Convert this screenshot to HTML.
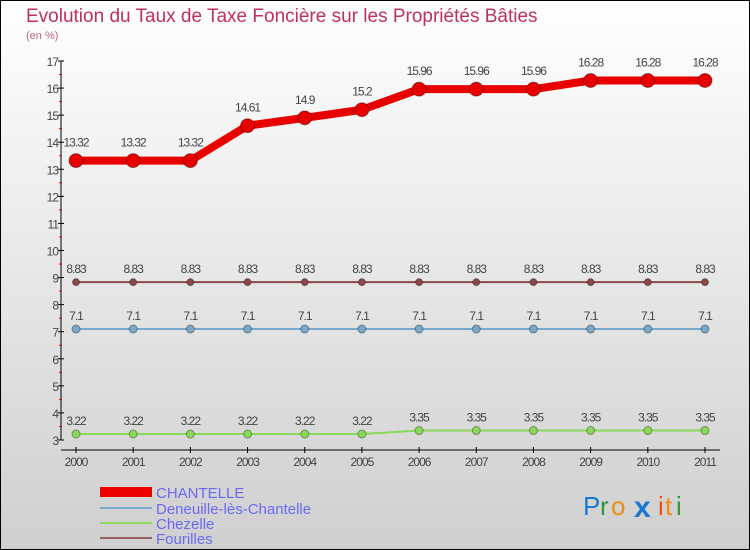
<!DOCTYPE html>
<html><head><meta charset="utf-8"><style>
body{margin:0}
#c{width:750px;height:550px;position:relative;overflow:hidden}
svg text{font-family:"Liberation Sans",sans-serif}
</style></head><body>
<div id="c">
<svg id="s" width="750" height="550" xmlns="http://www.w3.org/2000/svg">
<defs><linearGradient id="bg" x1="0" y1="0" x2="0" y2="1"><stop offset="0" stop-color="#ffffff"/><stop offset="1" stop-color="#cfcfcf"/></linearGradient></defs>
<rect x="0.5" y="0.5" width="749" height="549" fill="url(#bg)" stroke="#000"/>
<text x="26" y="22" font-size="19" fill="#c0305a">Evolution du Taux de Taxe Foncière sur les Propriétés Bâties</text>
<text x="26" y="39" font-size="11" fill="#c0608a">(en %)</text>
<g id="axes"></g><g id="series"></g>
<g>
<rect x="100" y="487" width="52" height="10" fill="#e00"/>
<text x="156" y="498" font-size="15" fill="#6a6af0">CHANTELLE</text>
<line x1="100" y1="508" x2="152" y2="508" stroke="#7aaccc" stroke-width="2"/>
<text x="156" y="514" font-size="15" fill="#6a6af0">Deneuille-lès-Chantelle</text>
<line x1="100" y1="523" x2="152" y2="523" stroke="#90d860" stroke-width="2"/>
<text x="156" y="529" font-size="15" fill="#6a6af0">Chezelle</text>
<line x1="100" y1="538" x2="152" y2="538" stroke="#946060" stroke-width="2"/>
<text x="156" y="544" font-size="15" fill="#6a6af0">Fourilles</text>
</g>
<g font-size="26">
<text x="583" y="515" fill="#1a78d0">P</text><text x="600" y="515" fill="#2a9a40">r</text><text x="611" y="515" fill="#f08a10">o</text><text x="634" y="517" fill="#1a78d0" font-weight="bold" font-size="30">x</text><text x="658" y="515" fill="#f05010">i</text><text x="665" y="515" fill="#f08a10">t</text><text x="676" y="515" fill="#2a9a40">i</text>
</g>
</svg></div>
<script>
const years=[2000,2001,2002,2003,2004,2005,2006,2007,2008,2009,2010,2011];
const chantelle=[13.32,13.32,13.32,14.61,14.9,15.2,15.96,15.96,15.96,16.28,16.28,16.28];
const deneuille=[7.1,7.1,7.1,7.1,7.1,7.1,7.1,7.1,7.1,7.1,7.1,7.1];
const chezelle=[3.22,3.22,3.22,3.22,3.22,3.22,3.35,3.35,3.35,3.35,3.35,3.35];
const fourilles=[8.83,8.83,8.83,8.83,8.83,8.83,8.83,8.83,8.83,8.83,8.83,8.83];
const yTicks=[3,4,5,6,7,8,9,10,11,12,13,14,15,16,17];
const NS="http://www.w3.org/2000/svg";
const X=i=>76+i*(705-76)/(years.length-1);
const Y=v=>440-(v-3)*(440-61)/14;
function mk(t,a,p){const e=document.createElementNS(NS,t);for(const k in a)e.setAttribute(k,a[k]);p.appendChild(e);return e;}
const ax=document.getElementById('axes'),sg=document.getElementById('series');
const yl=mk('line',{x1:61,y1:Y(17),x2:61,y2:Y(3),stroke:'#000'},ax);


const xl=mk('line',{x1:61,y1:450,x2:720,y2:450,stroke:'#000'},ax);


yTicks.forEach(v=>{
 mk('line',{x1:58,y1:Y(v),x2:64,y2:Y(v),stroke:'#000'},ax);
 if(v<17)mk('line',{x1:59,y1:Y(v+0.5),x2:62,y2:Y(v+0.5),stroke:'#e00'},ax);
 const t=mk('text',{x:58,y:Y(v)+5,'font-size':12,'text-anchor':'end',fill:'#444','letter-spacing':'-1'},ax);t.textContent=v;
 
 
});
years.forEach((y,i)=>{
 mk('line',{x1:X(i),y1:447,x2:X(i),y2:453,stroke:'#000'},ax);
 const t=mk('text',{x:X(i),y:466,'font-size':12,'text-anchor':'middle',fill:'#444','letter-spacing':'-1'},ax);t.textContent=y;
 
 
});
function series(name,data,color,w,r,off){
 const g=mk('g',{},sg);
 
 
 mk('polyline',{points:data.map((v,i)=>X(i)+','+Y(v)).join(' '),fill:'none',stroke:color,'stroke-width':w,'stroke-linejoin':'round'},g);
 data.forEach((v,i)=>{
  const c=mk('circle',{cx:X(i),cy:Y(v),r:r,fill:color,stroke:'rgba(0,0,0,0.35)','stroke-width':1},g);
  
  
  const t=mk('text',{x:X(i),y:Y(v)-off,'font-size':12,'text-anchor':'middle',fill:'#444','letter-spacing':'-1'},g);
  t.textContent=v;
  
  
 });
}
series('chezelle',chezelle,'#8ad858',2,4,9);
series('deneuille',deneuille,'#78a8cc',2,4,9);
series('fourilles',fourilles,'#8a4848',2,3.5,9);
series('chantelle',chantelle,'#e80000',8,7,14);
</script>
</body></html>
